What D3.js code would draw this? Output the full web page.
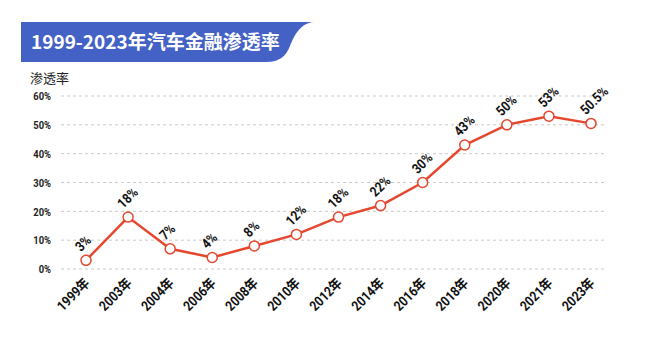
<!DOCTYPE html>
<html>
<head>
<meta charset="utf-8">
<script src="https://cdn.jsdelivr.net/npm/d3@7"></script>
<style>
  body { margin: 0; background: #fff; }
  svg { display: block; }
</style>
</head>
<body>
<svg id="drawing_region"></svg>
<script>
const years = ['1999年', '2003年', '2004年', '2006年', '2008年', '2010年', '2012年', '2014年', '2016年', '2018年', '2020年', '2021年', '2023年'];
const rates = [3, 18, 7, 4, 8, 12, 18, 22, 30, 43, 50, 53, 50.5];
const rateLabels = ['3%', '18%', '7%', '4%', '8%', '12%', '18%', '22%', '30%', '43%', '50%', '53%', '50.5%'];
const yTicks = [0, 10, 20, 30, 40, 50, 60];

const numFont = "Roboto, 'Noto Sans CJK SC', sans-serif";
const cjkFont = "'Noto Sans CJK SC', sans-serif";
const red = '#E5472F';

const svg = d3.select('#drawing_region')
    .attr('width', 649)
    .attr('height', 353);

// 标题横幅
svg.append('path')
    .attr('d', 'M21,22 H314 C300,23 294,36 290,46 C286,56 280,62 266,62 H21 Z')
    .attr('fill', '#4461C6');

svg.append('text')
    .attr('x', 31)
    .attr('y', 49)
    .attr('fill', '#fff')
    .attr('font-family', cjkFont)
    .attr('font-weight', 'bold')
    .attr('font-size', 19)
    .text('1999-2023年汽车金融渗透率');

svg.append('text')
    .attr('x', 30)
    .attr('y', 83)
    .attr('fill', '#222')
    .attr('font-family', cjkFont)
    .attr('font-size', 13)
    .text('渗透率');

const x = d3.scalePoint()
    .domain(years)
    .range([86, 591]);

const y = d3.scaleLinear()
    .domain([0, 60])
    .range([269, 96]);

// 网格线
svg.append('g')
    .selectAll('line')
    .data(yTicks)
    .join('line')
    .attr('x1', 61)
    .attr('x2', 607)
    .attr('y1', d => y(d))
    .attr('y2', d => y(d))
    .attr('stroke', '#c8c8c8')
    .attr('stroke-width', 1)
    .attr('stroke-dasharray', '3,3');

// y轴
const yaxis = d3.axisLeft(y)
    .tickValues(yTicks)
    .tickSize(0)
    .tickPadding(0)
    .tickFormat(d => d + '%');

svg.append('g')
    .attr('transform', 'translate(51,0)')
    .call(yaxis)
    .call(g => g.select('.domain').remove())
    .selectAll('text')
    .attr('font-family', numFont)
    .attr('font-weight', 'bold')
    .attr('font-size', 11.5)
    .attr('fill', '#222')
    .attr('transform', 'scale(0.82,1)');

// x轴
const xaxis = d3.axisBottom(x)
    .tickSize(0)
    .tickPadding(0);

svg.append('g')
    .attr('transform', 'translate(0,284)')
    .call(xaxis)
    .call(g => g.select('.domain').remove())
    .selectAll('text')
    .attr('font-family', numFont)
    .attr('font-weight', 'bold')
    .attr('font-size', 14)
    .attr('fill', '#111')
    .attr('text-anchor', 'end')
    .attr('dy', 0)
    .attr('transform', 'translate(4,0) rotate(-45) scale(0.85,1)');

// 折线
const line = d3.line()
    .x((d, i) => x(years[i]))
    .y(d => y(d));

svg.append('path')
    .datum(rates)
    .attr('d', line)
    .attr('fill', 'none')
    .attr('stroke', red)
    .attr('stroke-width', 2.5);

svg.append('g')
    .selectAll('circle')
    .data(rates)
    .join('circle')
    .attr('cx', (d, i) => x(years[i]))
    .attr('cy', d => y(d))
    .attr('r', 5)
    .attr('fill', '#fff')
    .attr('stroke', red)
    .attr('stroke-width', 1.5);

// 数据标签
svg.append('g')
    .selectAll('text')
    .data(rates)
    .join('text')
    .attr('transform', (d, i) => `translate(${x(years[i]) - 5},${y(d) - 8}) rotate(-45) scale(0.85,1)`)
    .attr('font-family', numFont)
    .attr('font-weight', 'bold')
    .attr('font-size', 14)
    .attr('fill', '#111')
    .text((d, i) => rateLabels[i]);
</script>
</body>
</html>
